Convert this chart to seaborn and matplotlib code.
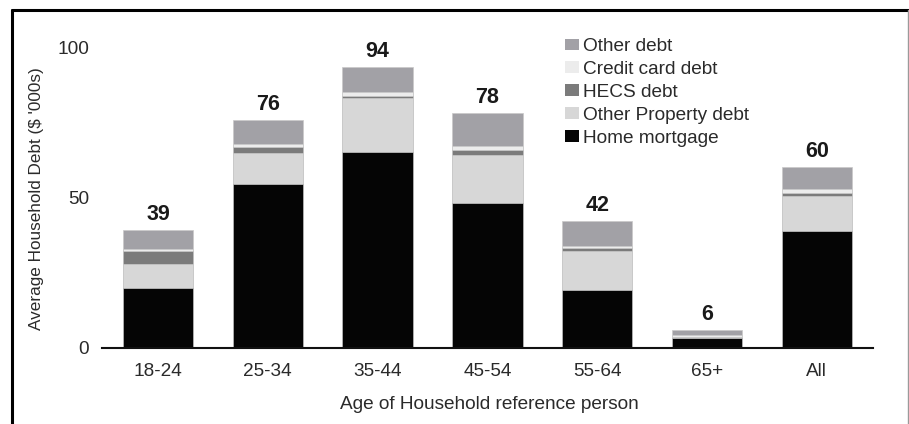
import matplotlib
matplotlib.use("Agg")
import matplotlib.pyplot as plt
from matplotlib.patches import Patch
from matplotlib.lines import Line2D
import seaborn as sns
import pandas as pd

# Average household debt by age of household reference person ($'000s)
ages = ["18-24", "25-34", "35-44", "45-54", "55-64", "65+", "All"]
home_mortgage = [19.8, 54.5, 65.3, 48.1, 19.2, 3.1, 38.9]
other_property = [8.0, 10.3, 18.0, 16.1, 13.2, 0.5, 11.6]
hecs_debt = [4.6, 2.2, 0.7, 1.7, 0.7, 0.0, 1.0]
credit_card = [0.6, 0.8, 1.1, 1.3, 0.9, 0.7, 1.3]
other_debt = [6.4, 8.1, 8.5, 10.9, 8.3, 1.6, 7.5]

# stacking order, bottom to top
series_names = ["Home mortgage", "Other Property debt", "HECS debt",
                "Credit card debt", "Other debt"]
series_colors = ["#050505", "#d7d7d7", "#7b7b7b", "#ececec", "#a2a1a6"]

y_ticks = [0, 50, 100]

sns.set_theme(style="white")
plt.rcParams["font.family"] = ["Liberation Sans", "DejaVu Sans"]
text_color = "#2a2a2a"
fs = 13.7

W, H = 909, 424
fig = plt.figure(figsize=(W / 100, H / 100), dpi=100)
ax = fig.add_axes([101.7 / W, 1 - 347.7 / H, (873.3 - 101.7) / W, 300 / H])

df = pd.DataFrame({
    "age": ages,
    "Home mortgage": home_mortgage,
    "Other Property debt": other_property,
    "HECS debt": hecs_debt,
    "Credit card debt": credit_card,
    "Other debt": other_debt,
})
stack = df[series_names].cumsum(axis=1)
stack["age"] = ages

# draw cumulative heights from the top segment down so each lower one overlays
for name, color in reversed(list(zip(series_names, series_colors))):
    sns.barplot(data=stack, x="age", y=name, order=ages, color=color,
                saturation=1, width=0.64, edgecolor="#c9c9c9", linewidth=0.5,
                errorbar=None, ax=ax)

totals = stack["Other debt"].tolist()
for i, total in enumerate(totals):
    ax.annotate(f"{total:.0f}", xy=(i, total), xytext=(0, 7.2),
                textcoords="offset points", ha="center", va="baseline",
                fontsize=15.5, fontweight="bold", color="#1a1a1a",
                annotation_clip=False)

ax.set_xlim(-0.513, 6.515)
ax.set_ylim(0, 100)
ax.set_yticks(y_ticks)
ax.set_yticklabels([str(t) for t in y_ticks])

for side in ("left", "top", "right"):
    ax.spines[side].set_visible(False)
ax.spines["bottom"].set_color("#111111")
ax.spines["bottom"].set_linewidth(1.5)

ax.tick_params(axis="y", length=0, pad=9, labelsize=fs, labelcolor=text_color)
ax.tick_params(axis="x", length=0, pad=11, labelsize=fs, labelcolor=text_color)

ax.set_xlabel("Age of Household reference person", fontsize=fs, color=text_color)
ax.xaxis.label.set_va("center")
ax.xaxis.set_label_coords(0.503, -0.19)

ax.set_ylabel("Average Household Debt ($ '000s)", fontsize=12.3, color=text_color)
ax.yaxis.label.set_va("center")
ax.yaxis.set_label_coords(-0.0839, 0.4957)

handles = [Patch(facecolor=c, edgecolor="none") for c in series_colors]
leg = ax.legend(handles[::-1], series_names[::-1], loc="upper left",
                bbox_to_anchor=(565 / W, 1 - 38 / H), bbox_transform=fig.transFigure,
                frameon=False, borderpad=0, borderaxespad=0,
                handlelength=0.75, handleheight=0.55, handletextpad=0.22,
                labelspacing=0.31, fontsize=fs)
for t in leg.get_texts():
    t.set_color(text_color)

# outer frame
top_y = 1 - 10 / H
fig.add_artist(Line2D([11.5 / W, 1], [top_y, top_y], transform=fig.transFigure,
                      color="black", lw=2.2))
fig.add_artist(Line2D([11.5 / W, 11.5 / W], [0, top_y], transform=fig.transFigure,
                      color="black", lw=2.2))
fig.add_artist(Line2D([907.5 / W, 907.5 / W], [0, top_y], transform=fig.transFigure,
                      color="#9a9a9a", lw=1.0))

fig.savefig("out.png", dpi=100)
